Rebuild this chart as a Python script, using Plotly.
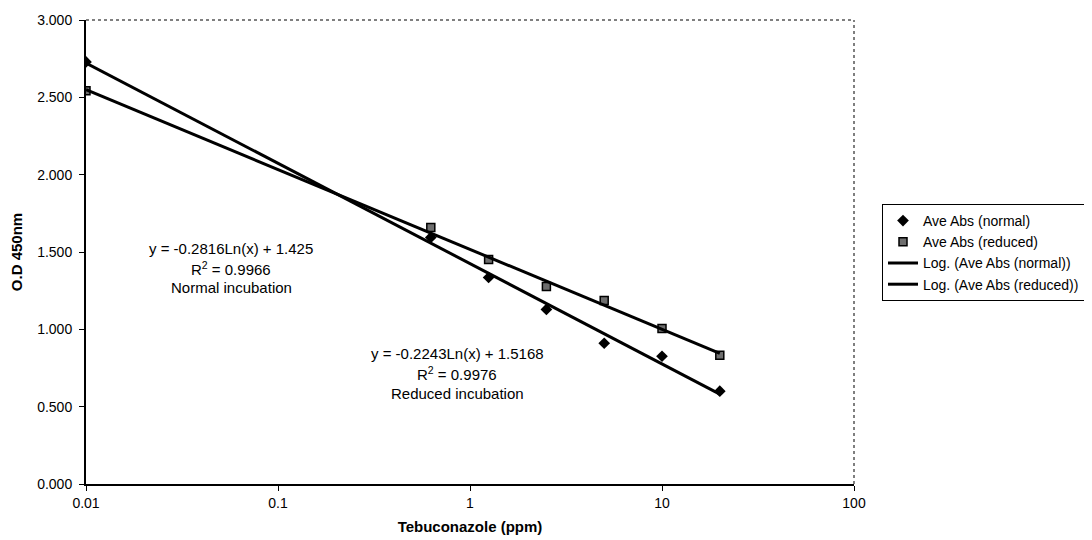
import numpy as np
import plotly.graph_objects as go

# Data
conc_ppm = [0.01, 0.625, 1.25, 2.5, 5, 10, 20]
abs_normal = [2.729, 1.594, 1.335, 1.129, 0.910, 0.826, 0.600]
abs_reduced = [2.542, 1.658, 1.452, 1.277, 1.187, 1.006, 0.832]

# Logarithmic trendline coefficients (y = a*Ln(x) + b)
fit_normal = (-0.2816, 1.425)
fit_reduced = (-0.2243, 1.5168)

x_ticks = [0.01, 0.1, 1, 10, 100]
x_tick_labels = ["0.01", "0.1", "1", "10", "100"]

FONT = "Arial, Liberation Sans, sans-serif"

x_arr = np.array(conc_ppm, dtype=float)
trend_normal = fit_normal[0] * np.log(x_arr) + fit_normal[1]
trend_reduced = fit_reduced[0] * np.log(x_arr) + fit_reduced[1]

fig = go.Figure()
fig.add_trace(go.Scatter(
    x=conc_ppm, y=abs_normal, mode="markers", name="Ave Abs (normal)",
    marker=dict(symbol="diamond", size=9, color="black"),
))
fig.add_trace(go.Scatter(
    x=conc_ppm, y=abs_reduced, mode="markers", name="Ave Abs (reduced)",
    marker=dict(symbol="square", size=8, color="#6e6e6e",
                line=dict(color="black", width=1.5)),
))
fig.add_trace(go.Scatter(
    x=conc_ppm, y=trend_normal, mode="lines", name="Log. (Ave Abs (normal))",
    line=dict(color="black", width=3),
))
fig.add_trace(go.Scatter(
    x=conc_ppm, y=trend_reduced, mode="lines", name="Log. (Ave Abs (reduced))",
    line=dict(color="black", width=3),
))

# page body has an 8px margin; the figure is sized so it ends at the window edge
OFF = 8
W, H = 1092 - OFF, 540 - OFF
L, R, T, B = 86 - OFF, 238, 20 - OFF, 56
pw, ph = W - L - R, H - T - B

def px(xp):
    return (xp - OFF - L) / pw

def py(yp):
    return (H - B - (yp - OFF)) / ph

annots = [
    ("y = -0.2816Ln(x) + 1.425", 231, 248),
    ("R<sup>2</sup> = 0.9966", 231, 268),
    ("Normal incubation", 231, 287),
    ("y = -0.2243Ln(x) + 1.5168", 457, 353),
    ("R<sup>2</sup> = 0.9976", 457, 373),
    ("Reduced incubation", 457, 393),
]
annotations = [
    dict(text=t, x=px(ax), y=py(ay), xref="paper", yref="paper",
         showarrow=False, xanchor="center", yanchor="middle",
         font=dict(family=FONT, size=15, color="black"))
    for t, ax, ay in annots
]

fig.update_layout(
    width=W, height=H,
    margin=dict(l=L, r=R, t=T, b=B, autoexpand=False),
    paper_bgcolor="white", plot_bgcolor="white",
    font=dict(family=FONT, size=14, color="black"),
    showlegend=True,
    legend=dict(
        x=px(882), y=py(204), xanchor="left", yanchor="top",
        bordercolor="black", borderwidth=1, bgcolor="white",
        font=dict(family=FONT, size=14, color="black"),
        tracegroupgap=0,
    ),
    annotations=annotations,
    shapes=[
        dict(type="line", xref="paper", yref="paper", x0=0, x1=1, y0=1, y1=1,
             line=dict(color="#555555", width=1.5, dash="dot")),
        dict(type="line", xref="paper", yref="paper", x0=1, x1=1, y0=0, y1=1,
             line=dict(color="#555555", width=1.5, dash="dot")),
    ],
)

fig.update_xaxes(
    type="log", range=[-2, 2],
    tickvals=x_ticks, ticktext=x_tick_labels,
    showgrid=False, zeroline=False,
    showline=True, linecolor="black", linewidth=2,
    ticks="outside", ticklen=5, tickcolor="black",
    tickfont=dict(family=FONT, size=14, color="black"),
    title=dict(text="<b>Tebuconazole (ppm)</b>", standoff=12,
               font=dict(family=FONT, size=15, color="black")),
)
fig.update_yaxes(
    range=[0, 3], dtick=0.5, tick0=0, tickformat=".3f",
    showgrid=False, zeroline=False,
    showline=True, linecolor="black", linewidth=2,
    ticks="outside", ticklen=5, tickcolor="black",
    ticklabelstandoff=4,
    tickfont=dict(family=FONT, size=14, color="black"),
    title=dict(text="<b>O.D 450nm</b>", standoff=12,
               font=dict(family=FONT, size=15, color="black")),
)

fig.write_html("out.html")
